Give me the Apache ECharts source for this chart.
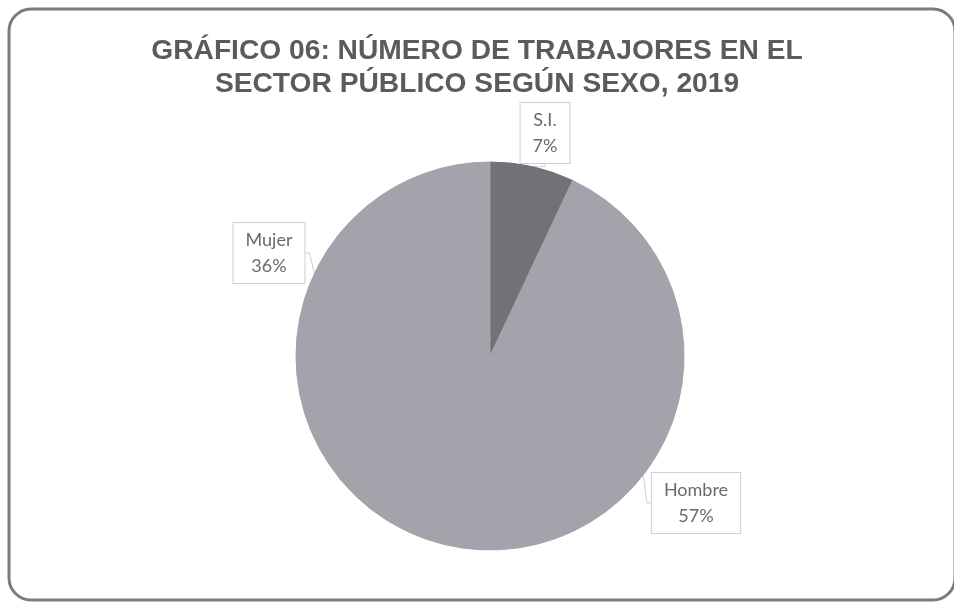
<!DOCTYPE html>
<html>
<head>
<meta charset="utf-8">
<script src="https://cdn.jsdelivr.net/npm/echarts@6/dist/echarts.min.js"></script>
<style>
html,body{margin:0;padding:0;background:#fff;}
#c{width:954px;height:606px;}
</style>
</head>
<body>
<div id="c"></div>
<script>
var titleLines = ["GRÁFICO 06: NÚMERO DE TRABAJORES EN EL", "SECTOR PÚBLICO SEGÚN SEXO, 2019"];
var categories = ["S.I.", "Hombre", "Mujer"];
var values = [7, 57, 36];
var sliceColors = ["#717177", "#a3a3ab", "#a3a3ab"];
var labelPos = {"S.I.": [545, 133], "Hombre": [696, 503], "Mujer": [269, 253]};

var chart = echarts.init(document.getElementById('c'));
chart.setOption({
  backgroundColor: '#ffffff',
  animation: false,
  title: {
    text: titleLines.join('\n'),
    left: 'center',
    top: 30,
    textStyle: {
      fontFamily: 'Liberation Sans, Arial, sans-serif',
      fontWeight: 'bold',
      fontSize: 28.2,
      lineHeight: 33,
      color: '#5b5b5e'
    }
  },
  graphic: [{
    type: 'rect',
    shape: {x: 9, y: 9, width: 946, height: 591, r: 22},
    style: {fill: 'none', stroke: '#7b7b80', lineWidth: 3},
    silent: true
  }],
  series: [{
    type: 'pie',
    center: [490, 356],
    radius: 194,
    startAngle: 90,
    clockwise: true,
    data: categories.map(function (c, i) {
      return {name: c, value: values[i], itemStyle: {color: sliceColors[i], borderColor: sliceColors[i], borderWidth: 1}};
    }),
    label: {
      show: true,
      formatter: '{b}\n{d}%',
      fontFamily: 'Lato, "Open Sans", sans-serif',
      fontSize: 18,
      lineHeight: 26,
      color: '#6a6a6d',
      backgroundColor: '#ffffff',
      borderColor: '#cfcfd2',
      borderWidth: 1,
      padding: [5, 12, 3, 12],
      align: 'center'
    },
    labelLine: {show: true, length: 6, length2: 4, lineStyle: {color: '#cfcfd2', width: 1}},
    labelLayout: function (p) {
      var pos = labelPos[categories[p.dataIndex]];
      return {x: pos[0], y: pos[1], align: 'center', verticalAlign: 'middle'};
    },
    emphasis: {disabled: true}
  }]
});
</script>
</body>
</html>
